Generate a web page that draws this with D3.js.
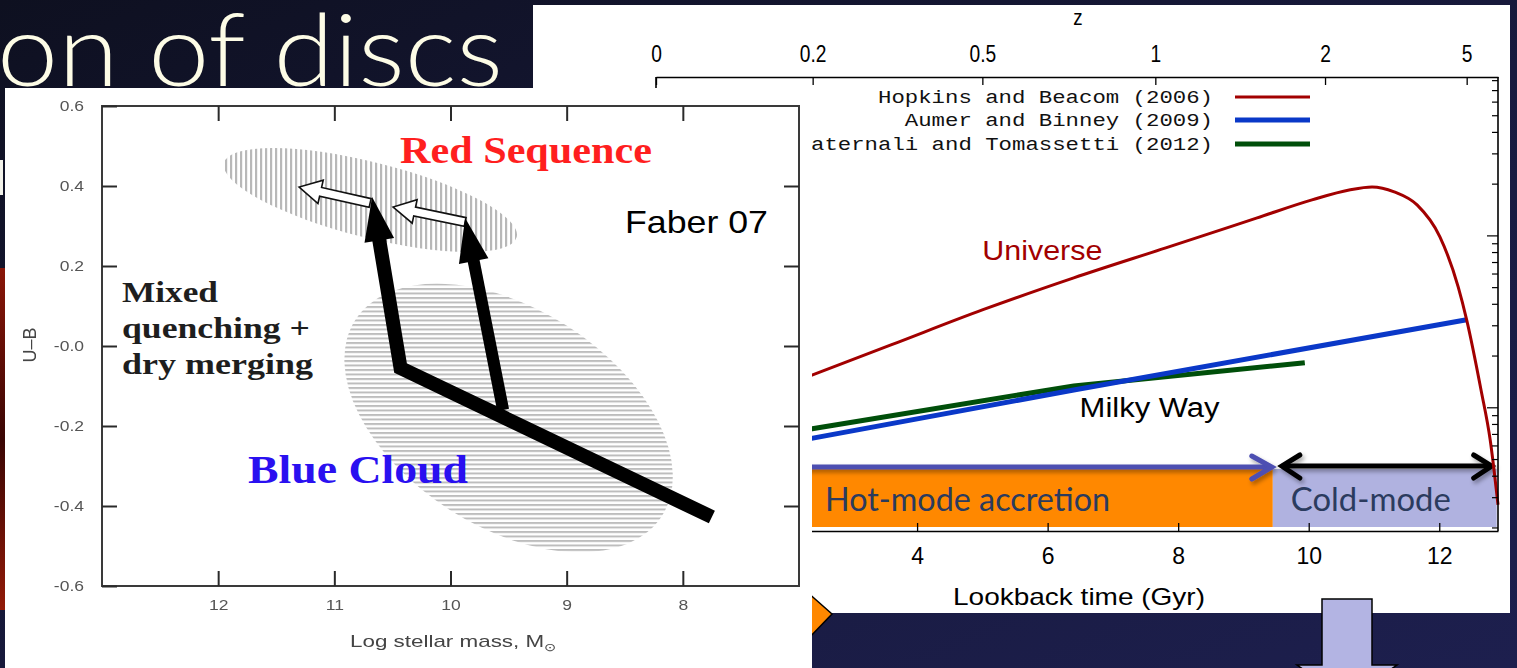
<!DOCTYPE html>
<html>
<head>
<meta charset="utf-8">
<script src="https://cdn.jsdelivr.net/npm/d3@7"></script>
<style>
  html, body { margin: 0; padding: 0; background: #15172f; overflow: hidden; }
  svg { display: block; }
</style>
</head>
<body>
<svg id="slide" width="1517" height="668"></svg>
<script>
// ---------- Star formation history (right panel) ----------
const lookbackTicks = [0, 2, 4, 6, 8, 10, 12];
const zTickLabels = ["0", "0.2", "0.5", "1", "2", "5"];
const zTickLookback = [0, 2.4, 5.0, 7.65, 10.25, 12.42];
const sfrDomain = [0.0192, 8.4];

// Hopkins & Beacom (2006): cosmic star formation history, [lookback Gyr, SFR]
const universeSFH = [
  [2.34, 0.1525], [3.60, 0.232], [5.01, 0.372], [6.40, 0.570],
  [7.81, 0.852], [9.21, 1.273], [10.05, 1.620], [10.62, 1.851], [10.97, 1.927],
  [11.31, 1.803], [11.66, 1.514], [12.01, 0.987], [12.29, 0.505], [12.42, 0.325],
  [12.64, 0.127], [12.78, 0.0652], [12.90, 0.0273]
];
// Aumer & Binney (2009): Milky Way
const aumerSFH = [[2.30, 0.0655], [6.40, 0.127], [12.42, 0.325]];
// Fraternali & Tomassetti (2012): Milky Way
const fraternaliSFH = [[2.30, 0.0745], [6.40, 0.134], [9.94, 0.183]];

const legendLabels = ["Hopkins and Beacom (2006)", "Aumer and Binney (2009)", "Fraternali and Tomassetti (2012)"];
const curveNames = ["Universe", "Milky Way"];
const curveNameAt = [[5.0, 0.725], [6.49, 0.0886]];

const accretionModes = ["Hot-mode accretion", "Cold-mode"];
const modeStart = [0, 9.45];
const modeEnd = [9.45, 12.88];

// ---------- Colour–mass diagram (left panel) ----------
const massTicks = [12, 11, 10, 9, 8];
const colourTicks = [0.6, 0.4, 0.2, 0.0, -0.2, -0.4, -0.6];
const colourTickLabels = ["0.6", "0.4", "0.2", "-0.0", "-0.2", "-0.4", "-0.6"];
const regionNames = ["Red Sequence", "Blue Cloud"];
const regionCentre = [[10.69, 0.365], [9.50, -0.18]];
const regionTip = [[9.43, 0.2725], [8.18, -0.425]];
const regionAspect = [0.25, 0.6];
const regionNameAt = [[10.435, 0.4575], [11.743, -0.3425]];
const trackMain = [[7.75, -0.4275], [10.43, -0.055], [10.675, 0.3725]];
const trackBranch = [[9.547, -0.16], [9.874, 0.32]];
const dryMergeFrom = [[10.692, 0.3575], [9.874, 0.31]];
const dryMergeTo = [[11.303, 0.3975], [10.494, 0.3475]];
const mixedLines = ["Mixed", "quenching +", "dry merging"];
const mixedAt = [[12.828, 0.11], [12.828, 0.02], [12.828, -0.07]];
const creditLabel = "Faber 07";
const creditAt = [8.498, 0.2825];

// ---------- helpers ----------
const W = 1517, H = 668;
const svg = d3.select("#slide");
const defs = svg.append("defs");
const SANS = "'Liberation Sans', Arial, Helvetica, sans-serif";
const SERIF = "'Liberation Serif', 'Times New Roman', serif";
const MONO = "'Liberation Mono', 'Courier New', monospace";
const SLIDE = "Lato, 'Open Sans', 'Noto Sans', sans-serif";

function fitWidth(sel, k) {
  sel.each(function () {
    const w = this.getComputedTextLength();
    this.setAttribute("textLength", w * k);
    this.setAttribute("lengthAdjust", "spacingAndGlyphs");
  });
}
function setLength(sel, len) {
  sel.attr("textLength", len).attr("lengthAdjust", "spacingAndGlyphs");
}

// slide background
const bg = defs.append("linearGradient").attr("id", "bg")
  .attr("x1", 0).attr("y1", 0).attr("x2", 1).attr("y2", 1);
bg.append("stop").attr("offset", 0).attr("stop-color", "#0e1020");
bg.append("stop").attr("offset", 0.55).attr("stop-color", "#181a3e");
bg.append("stop").attr("offset", 1).attr("stop-color", "#1d1f4e");
svg.append("rect").attr("width", W).attr("height", H).attr("fill", "url(#bg)");

const rs = defs.append("linearGradient").attr("id", "redStrip")
  .attr("x1", 0).attr("y1", 0).attr("x2", 0).attr("y2", 1);
rs.append("stop").attr("offset", 0).attr("stop-color", "#8a1608");
rs.append("stop").attr("offset", 0.5).attr("stop-color", "#3a0604");
rs.append("stop").attr("offset", 1).attr("stop-color", "#921a08");
svg.append("rect").attr("x", 0).attr("y", 268).attr("width", 6).attr("height", 342).attr("fill", "url(#redStrip)");
svg.append("rect").attr("x", 0).attr("y", 160).attr("width", 3).attr("height", 35).attr("fill", "#f2f2ea");

const shadow = defs.append("filter").attr("id", "shadow")
  .attr("x", "-10%").attr("y", "-50%").attr("width", "120%").attr("height", "200%");
shadow.append("feDropShadow").attr("dx", 2).attr("dy", 3).attr("stdDeviation", 2)
  .attr("flood-color", "#000").attr("flood-opacity", 0.35);

// slide title
setLength(svg.append("text")
  .attr("x", -3).attr("y", 86)
  .attr("font-family", SLIDE).attr("font-weight", 300).attr("font-size", 100)
  .attr("fill", "#fdfce6")
  .text("on of discs"), 506);

// =================== Right panel: star formation histories ===================
svg.append("rect").attr("x", 533).attr("y", 5).attr("width", 977).attr("height", 608).attr("fill", "#ffffff");

const frame = { top: 77, bottom: 531 };
const tx = d3.scaleLinear().domain([0, 12.9]).range([656, 1498]);
const sy = d3.scaleLog().domain(sfrDomain).range([frame.bottom, frame.top]);
const right = svg.append("g");
const panelEdge = 812;

// accretion-mode bands
const barTop = 469, barBottom = 527;
const modeFill = ["#ff8800", "#b0b2e0"];
right.selectAll("rect.mode").data(accretionModes).join("rect")
  .attr("class", "mode")
  .attr("x", (d, i) => tx(modeStart[i]))
  .attr("y", barTop)
  .attr("width", (d, i) => tx(modeEnd[i]) - tx(modeStart[i]))
  .attr("height", barBottom - barTop)
  .attr("fill", (d, i) => modeFill[i]);
right.selectAll("text.mode").data(accretionModes).join("text")
  .attr("class", "mode")
  .attr("x", (d, i) => i === 0 ? panelEdge + 13 : tx(modeStart[i]) + 18)
  .attr("y", 511)
  .attr("font-family", SLIDE).attr("font-size", 32)
  .attr("fill", "#2b3b5e")
  .text(d => d)
  .each(function (d, i) { setLength(d3.select(this), i === 0 ? 285 : 160); });

// hot-mode arrow
const hotTip = tx(modeEnd[0]) - 1;
const arrows = right.append("g").attr("filter", "url(#shadow)");
arrows.append("line")
  .attr("x1", tx(modeStart[0])).attr("x2", hotTip - 3)
  .attr("y1", 467).attr("y2", 467)
  .attr("stroke", "#4d4fb2").attr("stroke-width", 5);
arrows.append("polyline")
  .attr("points", [[hotTip - 20, 456], [hotTip, 467], [hotTip - 20, 479]].join(" "))
  .attr("fill", "none").attr("stroke", "#4d4fb2").attr("stroke-width", 5)
  .attr("stroke-linecap", "round").attr("stroke-linejoin", "miter");
// cold-mode double arrow
const cL = tx(modeStart[1]) + 9, cR = tx(modeEnd[1]) - 5;
arrows.append("line").attr("x1", cL + 2).attr("x2", cR - 2).attr("y1", 466).attr("y2", 466)
  .attr("stroke", "#000").attr("stroke-width", 5);
arrows.append("polyline")
  .attr("points", [[cL + 18, 455], [cL, 466], [cL + 18, 478]].join(" "))
  .attr("fill", "none").attr("stroke", "#000").attr("stroke-width", 5).attr("stroke-linecap", "round");
arrows.append("polyline")
  .attr("points", [[cR - 18, 455], [cR, 466], [cR - 18, 478]].join(" "))
  .attr("fill", "none").attr("stroke", "#000").attr("stroke-width", 5).attr("stroke-linecap", "round");

// curves
const smoothLine = d3.line().x(d => tx(d[0])).y(d => sy(d[1])).curve(d3.curveMonotoneX);
const straightLine = d3.line().x(d => tx(d[0])).y(d => sy(d[1]));
const seriesData = [universeSFH, aumerSFH, fraternaliSFH];
const seriesColour = ["#a20000", "#0a38c8", "#004f0a"];
const seriesWidth = [3, 5, 5];
[2, 1, 0].forEach(i => {
  right.append("path").attr("d", (i === 0 ? smoothLine : straightLine)(seriesData[i]))
    .attr("fill", "none").attr("stroke", seriesColour[i]).attr("stroke-width", seriesWidth[i]);
});

// curve names
right.selectAll("text.cname").data(curveNames).join("text")
  .attr("class", "cname")
  .attr("x", (d, i) => tx(curveNameAt[i][0]))
  .attr("y", (d, i) => sy(curveNameAt[i][1]))
  .attr("font-family", SANS).attr("font-size", 27)
  .attr("fill", (d, i) => i === 0 ? "#a20000" : "#000")
  .text(d => d)
  .each(function (d, i) { setLength(d3.select(this), i === 0 ? 120 : 140); });

// legend
const legendY = [97, 120, 144];
right.selectAll("text.leg").data(legendLabels).join("text")
  .attr("class", "leg")
  .attr("x", 1213).attr("y", (d, i) => legendY[i] + 6)
  .attr("text-anchor", "end")
  .attr("font-family", MONO).attr("font-size", 18).attr("fill", "#111")
  .text(d => d)
  .each(function (d) { setLength(d3.select(this), d.length * 13.4); });
right.selectAll("line.leg").data(legendLabels).join("line")
  .attr("class", "leg")
  .attr("x1", 1235).attr("x2", 1310)
  .attr("y1", (d, i) => legendY[i]).attr("y2", (d, i) => legendY[i])
  .attr("stroke", (d, i) => seriesColour[i]).attr("stroke-width", (d, i) => seriesWidth[i]);

// axes
function styleAxis(g) {
  g.selectAll("path.domain").attr("stroke", "#000").attr("stroke-width", 1.6);
  g.selectAll(".tick line").attr("stroke", "#000").attr("stroke-width", 1.3);
}
const xAxisB = right.append("g").attr("transform", `translate(0,${frame.bottom})`)
  .call(d3.axisBottom(tx).tickValues(lookbackTicks).tickSize(-8).tickSizeOuter(0).tickPadding(17))
  .call(styleAxis);
xAxisB.selectAll("text").attr("font-family", SANS).attr("font-size", 23).attr("fill", "#000");

const xAxisT = right.append("g").attr("transform", `translate(0,${frame.top})`)
  .call(d3.axisTop(tx).tickValues(zTickLookback).tickFormat((d, i) => zTickLabels[i])
    .tickSize(-8).tickSizeOuter(0).tickPadding(15))
  .call(styleAxis);
xAxisT.selectAll("text").attr("font-family", SANS).attr("font-size", 24).attr("fill", "#000")
  .call(fitWidth, 0.8);

// left and right frame lines with log ticks
right.append("line").attr("x1", tx(0)).attr("x2", tx(0)).attr("y1", frame.top).attr("y2", frame.bottom)
  .attr("stroke", "#000").attr("stroke-width", 1.6);
right.append("line").attr("x1", tx(12.9)).attr("x2", tx(12.9)).attr("y1", frame.top).attr("y2", frame.bottom)
  .attr("stroke", "#000").attr("stroke-width", 1.6);
const logTicks = sy.ticks();
right.selectAll("line.ytick").data(logTicks).join("line")
  .attr("class", "ytick")
  .attr("x1", tx(12.9))
  .attr("x2", d => {
    const major = Math.abs(Math.log10(d) - Math.round(Math.log10(d))) < 1e-6;
    return tx(12.9) - (major ? 11 : 6);
  })
  .attr("y1", d => sy(d)).attr("y2", d => sy(d))
  .attr("stroke", "#000").attr("stroke-width", 1.2);

right.append("text").attr("x", 1078).attr("y", 25).attr("text-anchor", "middle")
  .attr("font-family", SANS).attr("font-size", 22).attr("fill", "#000").text("z")
  .call(fitWidth, 0.85);
setLength(right.append("text").attr("x", 953).attr("y", 605)
  .attr("font-family", SANS).attr("font-size", 24).attr("fill", "#000")
  .text("Lookback time (Gyr)"), 252);

// slide decorations on the lower band
svg.append("polygon")
  .attr("points", [[780, 568], [832, 614], [780, 668]].join(" "))
  .attr("fill", "#ff8800").attr("stroke", "#000").attr("stroke-width", 1.5);
svg.append("polygon")
  .attr("points", [[1322, 599], [1372, 599], [1372, 665], [1397, 665], [1347, 700], [1297, 665], [1322, 665]].join(" "))
  .attr("fill", "#b3b4e3").attr("stroke", "#000").attr("stroke-width", 1.5);

// =================== Left panel: colour–magnitude diagram ===================
svg.append("rect").attr("x", 5).attr("y", 88).attr("width", 807).attr("height", 580).attr("fill", "#ffffff");

const mx = d3.scaleLinear().domain([13, 7]).range([102, 799]);
const cy = d3.scaleLinear().domain([-0.6, 0.6]).range([586, 106]);
const left = svg.append("g");

// hatch fills
const vh = defs.append("pattern").attr("id", "vhatch").attr("patternUnits", "userSpaceOnUse")
  .attr("width", 5).attr("height", 5);
vh.append("rect").attr("width", 2.2).attr("height", 5).attr("fill", "#b8b8b8");
const hh = defs.append("pattern").attr("id", "hhatch").attr("patternUnits", "userSpaceOnUse")
  .attr("width", 5).attr("height", 4.5);
hh.append("rect").attr("width", 5).attr("height", 2).attr("fill", "#bdbdbd");
const soft = defs.append("filter").attr("id", "soft");
soft.append("feGaussianBlur").attr("stdDeviation", 0.6);

function ellipsePath(i) {
  const c = [mx(regionCentre[i][0]), cy(regionCentre[i][1])];
  const t = [mx(regionTip[i][0]), cy(regionTip[i][1])];
  const a = Math.hypot(t[0] - c[0], t[1] - c[1]);
  const b = a * regionAspect[i];
  const ang = Math.atan2(t[1] - c[1], t[0] - c[0]) * 180 / Math.PI;
  const s = [2 * c[0] - t[0], 2 * c[1] - t[1]];
  return `M${s[0]},${s[1]} A${a},${b} ${ang} 0 1 ${t[0]},${t[1]} A${a},${b} ${ang} 0 1 ${s[0]},${s[1]} Z`;
}
left.selectAll("path.region").data(regionNames).join("path")
  .attr("class", "region")
  .attr("d", (d, i) => ellipsePath(i))
  .attr("fill", (d, i) => i === 0 ? "url(#vhatch)" : "url(#hhatch)")
  .attr("filter", "url(#soft)");

// frame and axes
left.append("rect").attr("x", mx(13)).attr("y", cy(0.6))
  .attr("width", mx(7) - mx(13)).attr("height", cy(-0.6) - cy(0.6))
  .attr("fill", "none").attr("stroke", "#3a3a3a").attr("stroke-width", 2);
function styleLeftAxis(g) {
  g.selectAll("path.domain").remove();
  g.selectAll(".tick line").attr("stroke", "#2a2a2a").attr("stroke-width", 2);
  g.selectAll("text").attr("font-family", SANS).attr("font-size", 14).attr("fill", "#555");
}
const ax1 = left.append("g").attr("transform", `translate(${mx(13)},0)`)
  .call(d3.axisLeft(cy).tickValues(colourTicks).tickFormat((d, i) => colourTickLabels[i])
    .tickSize(-15).tickSizeOuter(0).tickPadding(18))
  .call(styleLeftAxis);
ax1.selectAll("text").call(fitWidth, 1.25).attr("filter", "url(#soft)");
left.append("g").attr("transform", `translate(${mx(7)},0)`)
  .call(d3.axisRight(cy).tickValues(colourTicks.slice(1, -1)).tickFormat("").tickSize(-15).tickSizeOuter(0))
  .call(styleLeftAxis);
const ax3 = left.append("g").attr("transform", `translate(0,${cy(-0.6)})`)
  .call(d3.axisBottom(mx).tickValues(massTicks).tickFormat(d3.format("d"))
    .tickSize(-15).tickSizeOuter(0).tickPadding(14))
  .call(styleLeftAxis);
ax3.selectAll("text").call(fitWidth, 1.25).attr("filter", "url(#soft)");
left.append("g").attr("transform", `translate(0,${cy(0.6)})`)
  .call(d3.axisTop(mx).tickValues(massTicks).tickFormat("").tickSize(-15).tickSizeOuter(0))
  .call(styleLeftAxis);

left.append("text").attr("transform", "translate(36,345) rotate(-90)")
  .attr("text-anchor", "middle").attr("font-family", SANS).attr("font-size", 18).attr("fill", "#444")
  .attr("filter", "url(#soft)").text("U–B");
const xl = left.append("text").attr("x", 350).attr("y", 647)
  .attr("font-family", SANS).attr("font-size", 17).attr("fill", "#444").attr("filter", "url(#soft)");
xl.append("tspan").text("Log stellar mass, M");
xl.append("tspan").attr("font-size", 11).attr("dy", 4).text("⊙");
setLength(xl, 206);

// open "dry merging" arrows
function openArrow(b, t) {
  const L = Math.hypot(t[0] - b[0], t[1] - b[1]);
  const d = [(t[0] - b[0]) / L, (t[1] - b[1]) / L];
  const n = [-d[1], d[0]];
  const hl = 22, sw = 4.5, hw = 12;
  const h = [t[0] - d[0] * hl, t[1] - d[1] * hl];
  const p = (o, k) => [o[0] + n[0] * k, o[1] + n[1] * k];
  return [p(b, sw), p(h, sw), p(h, hw), t, p(h, -hw), p(h, -sw), p(b, -sw)];
}
left.selectAll("polygon.dry").data(dryMergeFrom).join("polygon")
  .attr("class", "dry")
  .attr("points", (d, i) => openArrow([mx(d[0]), cy(d[1])], [mx(dryMergeTo[i][0]), cy(dryMergeTo[i][1])]).join(" "))
  .attr("fill", "#fff").attr("stroke", "#111").attr("stroke-width", 1.6).attr("stroke-linejoin", "miter");

// evolutionary tracks with solid arrowheads
function thickArrow(pts, width) {
  const px = pts.map(p => [mx(p[0]), cy(p[1])]);
  const tip = px[px.length - 1], prev = px[px.length - 2];
  const L = Math.hypot(tip[0] - prev[0], tip[1] - prev[1]);
  const d = [(tip[0] - prev[0]) / L, (tip[1] - prev[1]) / L];
  const n = [-d[1], d[0]];
  const hl = 44, hw = 15;
  const base = [tip[0] - d[0] * hl, tip[1] - d[1] * hl];
  const shaft = px.slice(0, -1).concat([[base[0] + d[0] * 2, base[1] + d[1] * 2]]);
  left.append("path").attr("d", d3.line()(shaft))
    .attr("fill", "none").attr("stroke", "#000").attr("stroke-width", width)
    .attr("stroke-linejoin", "miter").attr("stroke-linecap", "butt");
  left.append("polygon")
    .attr("points", [[base[0] + n[0] * hw, base[1] + n[1] * hw], tip, [base[0] - n[0] * hw, base[1] - n[1] * hw]].join(" "))
    .attr("fill", "#000");
}
thickArrow(trackBranch, 12);
thickArrow(trackMain, 14);

// annotations
const regionColour = ["#ff1f1f", "#2a10f0"];
left.selectAll("text.region").data(regionNames).join("text")
  .attr("class", "region")
  .attr("x", (d, i) => mx(regionNameAt[i][0]))
  .attr("y", (d, i) => cy(regionNameAt[i][1]))
  .attr("font-family", SERIF).attr("font-weight", "bold")
  .attr("font-size", (d, i) => i === 0 ? 37 : 41)
  .attr("fill", (d, i) => regionColour[i])
  .text(d => d)
  .each(function (d, i) { setLength(d3.select(this), i === 0 ? 252 : 220); });

const mixedWidth = [96, 188, 191];
left.selectAll("text.mixed").data(mixedLines).join("text")
  .attr("class", "mixed")
  .attr("x", (d, i) => mx(mixedAt[i][0]))
  .attr("y", (d, i) => cy(mixedAt[i][1]))
  .attr("font-family", SERIF).attr("font-weight", "bold").attr("font-size", 29)
  .attr("fill", "#1e1e1e")
  .text(d => d)
  .each(function (d, i) { setLength(d3.select(this), mixedWidth[i]); });

setLength(left.append("text")
  .attr("x", mx(creditAt[0])).attr("y", cy(creditAt[1]))
  .attr("font-family", SANS).attr("font-size", 32).attr("fill", "#000")
  .text(creditLabel), 143);
</script>
</body>
</html>
